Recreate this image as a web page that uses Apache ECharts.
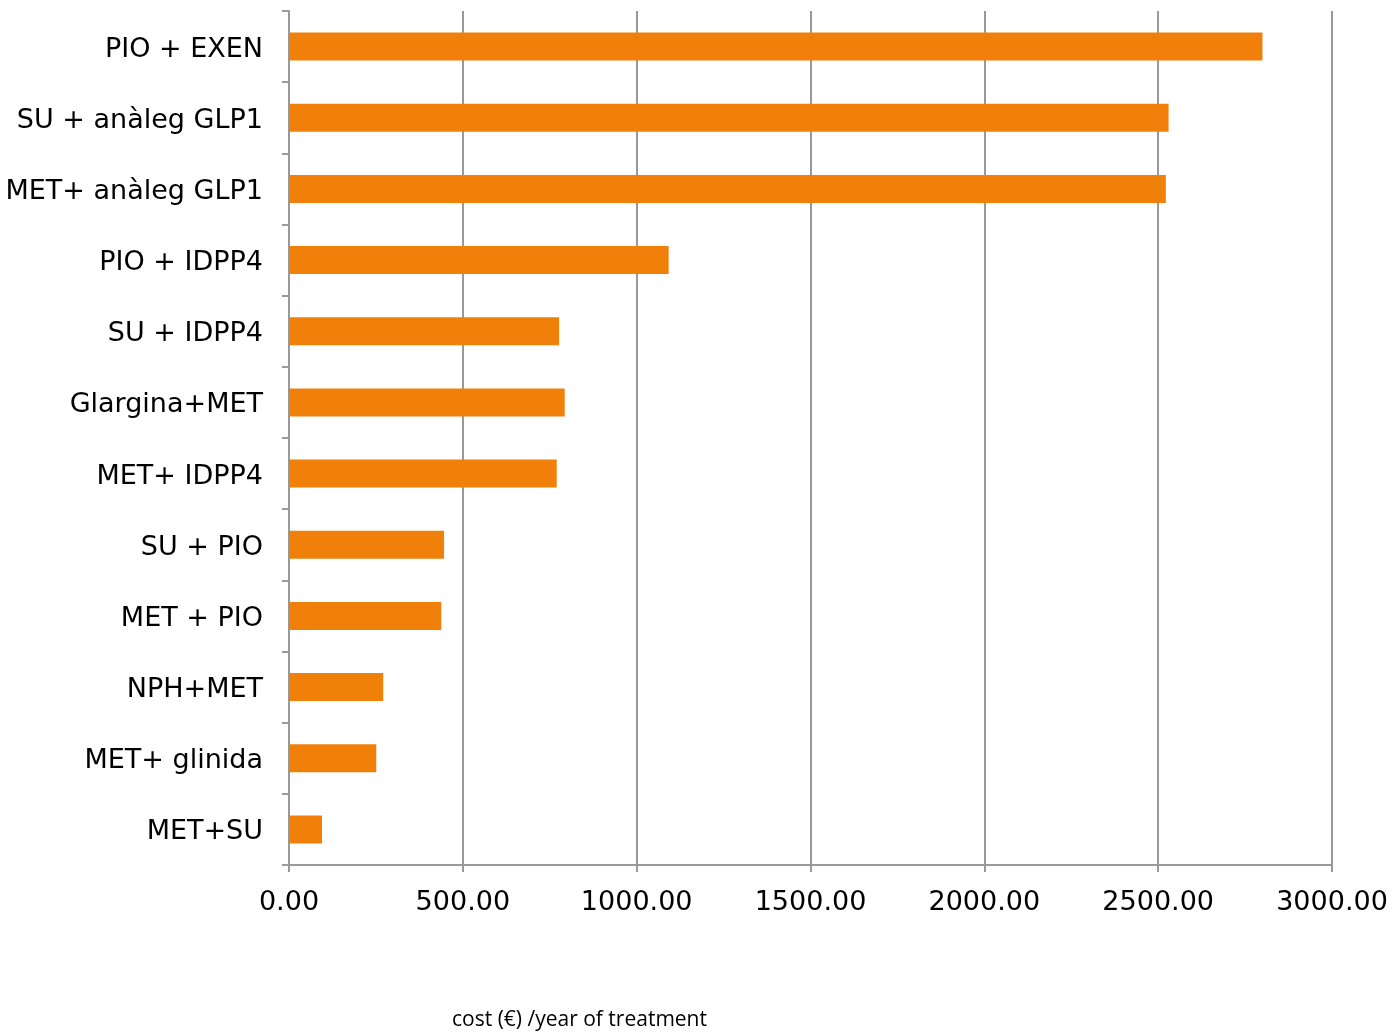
<!DOCTYPE html>
<html>
<head>
<meta charset="utf-8">
<script src="https://cdn.jsdelivr.net/npm/echarts@6/dist/echarts.min.js"></script>
<style>html,body{margin:0;padding:0;background:#fff;overflow:hidden}#c{width:1392px;height:1036px}</style>
</head>
<body>
<div id="c"></div>
<script>
const categories = ["PIO + EXEN","SU + anàleg GLP1","MET+ anàleg GLP1","PIO + IDPP4","SU + IDPP4","Glargina+MET","MET+ IDPP4","SU + PIO","MET + PIO","NPH+MET","MET+ glinida","MET+SU"];
const costs = [2800, 2530, 2522, 1092, 777, 793, 770, 446, 438, 271, 251, 95];
const axisTitle = "cost (€) /year of treatment";

const chart = echarts.init(document.getElementById('c'), null, {renderer:'canvas'});
chart.setOption({
  animation:false,
  backgroundColor:'#fff',
  grid:{left:289,right:60,top:11,bottom:171,containLabel:false},
  xAxis:{
    type:'value',min:0,max:3000,interval:500,
    axisLine:{show:true,lineStyle:{color:'#999',width:2}},
    axisTick:{show:true,length:7,lineStyle:{color:'#999',width:2}},
    splitLine:{show:true,lineStyle:{color:'#999',width:2}},
    axisLabel:{margin:24,color:'#000',fontFamily:'DejaVu Sans',fontSize:27,formatter:v=>v.toFixed(2)}
  },
  yAxis:{
    type:'category',data:categories,inverse:true,
    axisLine:{show:true,lineStyle:{color:'#999',width:2}},
    axisTick:{show:true,length:7,lineStyle:{color:'#999',width:2}},
    axisLabel:{margin:26,color:'#000',fontFamily:'DejaVu Sans',fontSize:27,
      formatter:v=>'{a|'+v+'}',
      rich:{a:{fontFamily:'DejaVu Sans',fontSize:27,color:'#000',padding:[6,0,0,0]}}}
  },
  series:[{type:'bar',data:costs,barWidth:28,itemStyle:{color:'#f0800a'}}],
  graphic:[{type:'text',left:452,top:1010,style:{text:axisTitle,fontFamily:'Open Sans',fontSize:21,fill:'#000'}}]
});
</script>
</body>
</html>
